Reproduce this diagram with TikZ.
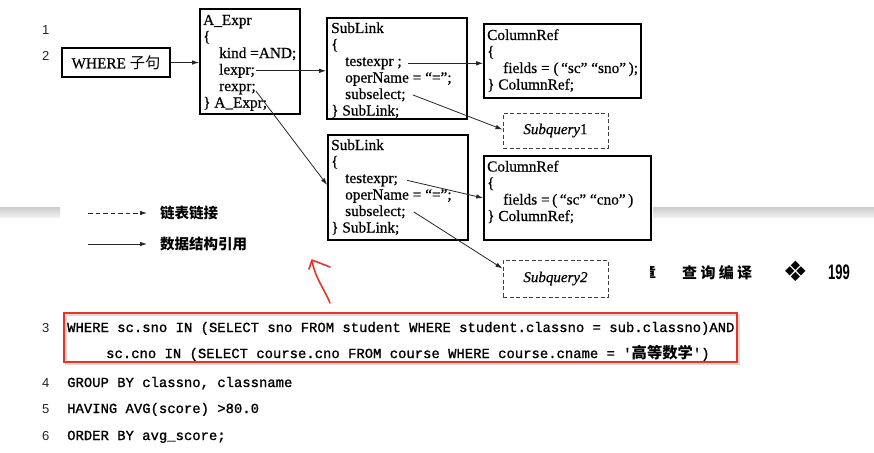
\documentclass[tikz,border=0pt]{standalone}
\usepackage{fontspec}
\usepackage{graphicx}
\setmainfont{Liberation Serif}
\setmonofont{Liberation Mono}
\setsansfont{Liberation Sans}
\newfontfamily\codefont[FakeBold=1.2]{Liberation Mono}
\newfontfamily\diagfont[FakeBold=0.5]{Liberation Serif}
\newfontfamily\cjk{Noto Sans CJK SC}
\newfontfamily\dejavu{DejaVu Sans}
\usetikzlibrary{arrows.meta}
\definecolor{redpen}{RGB}{232,52,38}
\tikzset{
  txt/.style={anchor=base west, inner sep=0pt, font=\diagfont\fontsize{15.3}{16.5}\selectfont},
  box/.style={draw=black, line width=1.7pt, inner sep=0pt},
  dbox/.style={draw=black!75, line width=1pt, dash pattern=on 4pt off 2.5pt, inner sep=0pt, font=\diagfont\fontsize{15}{16}\selectfont},
  ref/.style={draw=black!85, line width=0.8pt, -{Latex[length=7pt,width=4.5pt]}},
  code/.style={anchor=base west, inner sep=0pt, text=black, font=\codefont\fontsize{13.9}{14}\selectfont},
  lnum/.style={anchor=base west, inner sep=0pt, text=black!85, font=\sffamily\fontsize{13}{14}\selectfont},
  legendtxt/.style={anchor=west, inner sep=0pt, font=\cjk\bfseries\fontsize{14.5}{15}\selectfont},
  band/.style={top color=gray!40, bottom color=gray!12, draw=none},
  redbox/.style={draw=redpen, line width=2pt},
  hdr/.style={anchor=west, inner sep=0pt, font=\cjk\bfseries\fontsize{15}{15}\selectfont},
}
\begin{document}
\begin{tikzpicture}[x=1pt,y=-1pt]
\useasboundingbox (0,0) rectangle (874,452);
\fill[white] (0,0) rectangle (874,452);

% page bands
\shade[band] (0,207) rectangle (60,217);
\shade[band] (653,207) rectangle (874,217);

% line numbers
\node[lnum] (n1) at (42,35) {1};
\node[lnum] (n2) at (42,60) {2};
\node[lnum] (n3) at (42,332) {3};
\node[lnum] (n4) at (42,387) {4};
\node[lnum] (n5) at (42,413) {5};
\node[lnum] (n6) at (42,440) {6};

% boxes
\node[box, minimum width=108pt, minimum height=29pt, font=\diagfont\fontsize{15.3}{16}\selectfont] (where) at (116,62.5) {WHERE {\cjk 子句}};
\node[box, minimum width=100pt, minimum height=105pt] (aexpr) at (250,61.5) {};
\node[box, minimum width=140pt, minimum height=101pt] (sl1) at (397,68.5) {};
\node[box, minimum width=157pt, minimum height=74pt] (cr1) at (562.5,61) {};
\node[dbox, minimum width=105pt, minimum height=35pt] (sq1) at (555.5,130.5) {\textit{Subquery}1};
\node[box, minimum width=140pt, minimum height=105pt] (sl2) at (398,187.5) {};
\node[box, minimum width=167pt, minimum height=84pt] (cr2) at (567.5,198) {};
\node[dbox, minimum width=105pt, minimum height=37pt] (sq2) at (555.5,278.5) {\textit{Subquery2}};

% A_Expr text
\node[txt] (ae1) at (203,25) {A\_Expr};
\node[txt] (ae2) at (203,41.5) {\{};
\node[txt] (ae3) at (219,58) {kind =AND;};
\node[txt] (ael) at (219,74.5) {lexpr;};
\node[txt] (aer) at (219,91) {rexpr;};
\node[txt] (ae6) at (203,107.5) {\} A\_Expr;};

% SubLink 1 text
\node[txt] (s11) at (331,33) {SubLink};
\node[txt] (s12) at (331,49.5) {\{};
\node[txt] (s1t) at (345,66) {testexpr ;};
\node[txt] (s14) at (345,82.5) {operName = “=”;};
\node[txt] (s1s) at (345,99) {subselect;};
\node[txt] (s16) at (331,115.5) {\} SubLink;};

% SubLink 2 text
\node[txt] (s21) at (331,150) {SubLink};
\node[txt] (s22) at (331,166.5) {\{};
\node[txt] (s2t) at (345,183) {testexpr;};
\node[txt] (s24) at (345,199.5) {operName = “=”;};
\node[txt] (s2s) at (345,216) {subselect;};
\node[txt] (s26) at (331,232.5) {\} SubLink;};

% ColumnRef 1 text
\node[txt] (c11) at (487,40) {ColumnRef};
\node[txt] (c12) at (487,56.5) {\{};
\node[txt] (c13) at (503,73) {fields = (\,“sc” “sno”\,);};
\node[txt] (c14) at (487,89.5) {\} ColumnRef;};

% ColumnRef 2 text
\node[txt] (c21) at (487,171.5) {ColumnRef};
\node[txt] (c22) at (487,188) {\{};
\node[txt] (c23) at (503,204.5) {fields =\,(\,“sc” “cno”\,)};
\node[txt] (c24) at (487,221) {\} ColumnRef;};

% connectors
\draw[ref] (where.east) -- (where.east -| aexpr.west);
\draw[ref] ([xshift=1pt]ael.east) -- (ael.east -| sl1.west);
\draw[ref] ([yshift=-2pt]aer.east) -- ([yshift=2.5pt]sl2.west);
\draw[ref] ([xshift=6pt]s1t.east) -- (s1t.east -| cr1.west);
\draw[ref] ([xshift=7pt]s1s.east) -- ([yshift=1pt]sq1.west);
\draw[ref] ([xshift=9pt]s2t.east) -- (cr2.west);
\draw[ref] ([xshift=8pt]s2s.east) -- ([yshift=10pt]sq2.west);

% legend
\coordinate (lg1a) at (88,213);
\coordinate (lg1b) at (147,213);
\draw[ref, dash pattern=on 4.5pt off 3pt] (lg1a) -- (lg1b);
\node[legendtxt] (lg1) at (160,213) {链表链接};
\coordinate (lg2a) at (88,244);
\coordinate (lg2b) at (147,244);
\draw[ref] (lg2a) -- (lg2b);
\node[legendtxt] (lg2) at (160,244) {数据结构引用};

% page header fragment
\begin{scope}
\clip (650,255) rectangle (662,290);
\node[hdr] (zhang) at (641,272.5) {章};
\end{scope}
\node[hdr] (title) at (682,272.5) {查\hspace{3.3pt}询\hspace{3.3pt}编\hspace{3.3pt}译};
\node[inner sep=0pt, font=\dejavu\fontsize{28}{28}\selectfont] (orn) at (795.5,271) {❖};
\node[anchor=west, inner sep=0pt, font=\sffamily\bfseries\fontsize{21}{21}\selectfont] (pg) at (828,272.5) {\scalebox{0.62}[1]{199}};

% red hand-drawn arrow
\draw[redpen, line width=1.6pt, line cap=round] (330,303) .. controls (324,288) and (316,280) .. (312,261);
\draw[redpen, line width=1.6pt, line cap=round, line join=round] (309,269) -- (312,260) -- (330,267);

% red highlight box
\draw[gray!30, line width=2pt] (66,315) rectangle (739,364);
\draw[redbox] (64,313) rectangle (737,362);

% code
\node[code] (c3) at (67,332) {WHERE sc.sno IN (SELECT sno FROM student WHERE student.classno = sub.classno)AND};
\node[code] (c3b) at (106,358) {sc.cno IN (SELECT course.cno FROM course WHERE course.cname = '{\cjk\bfseries\fontsize{15.3}{15}\selectfont 高等数学}')};
\node[code] (c4) at (67,387) {GROUP BY classno, classname};
\node[code] (c5) at (67,413) {HAVING AVG(score) >80.0};
\node[code] (c6) at (67,440) {ORDER BY avg\_score;};
\end{tikzpicture}
\end{document}
